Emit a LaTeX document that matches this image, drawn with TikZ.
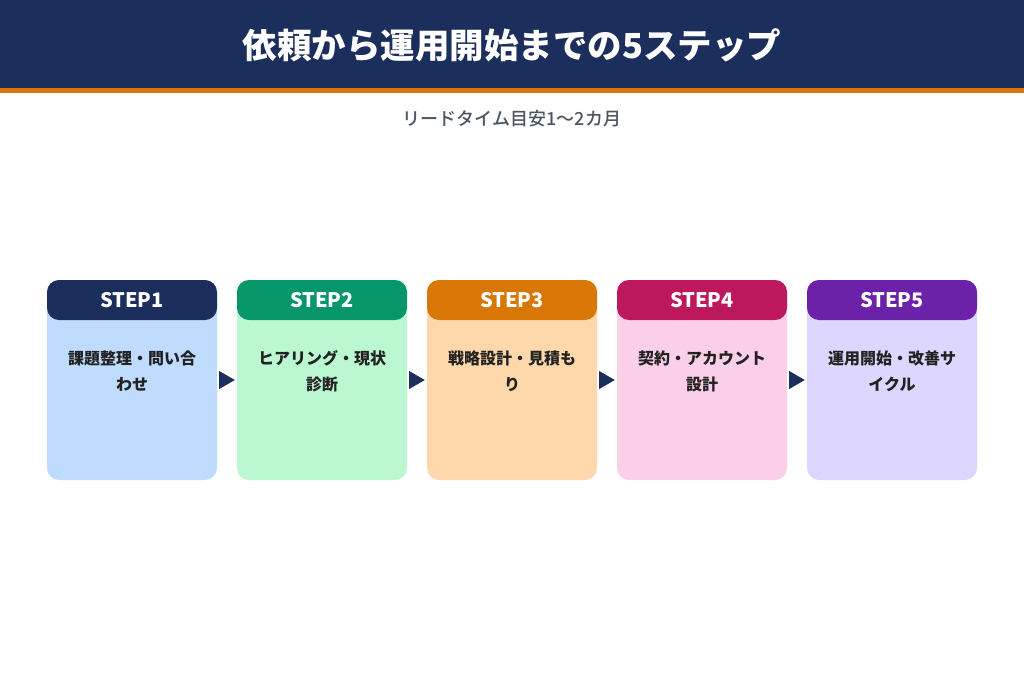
\documentclass[tikz,border=0pt]{standalone}
\usepackage{fontspec}
\setmainfont{Noto Sans CJK JP}
\newfontfamily\jp{Noto Sans CJK JP}
\newfontfamily\jpblack{Noto Sans CJK JP Black}
\newfontfamily\jpmed{Noto Sans CJK JP Medium}
\usetikzlibrary{calc}
\definecolor{navy}{HTML}{1C2E5C}
\definecolor{stripe}{HTML}{D97706}
\definecolor{hA}{HTML}{1C2E5C}
\definecolor{hB}{HTML}{06966A}
\definecolor{hC}{HTML}{D97706}
\definecolor{hD}{HTML}{BE185D}
\definecolor{hE}{HTML}{6B21A8}
\definecolor{bA}{HTML}{BFDBFE}
\definecolor{bB}{HTML}{BBF7D0}
\definecolor{bC}{HTML}{FED7AA}
\definecolor{bD}{HTML}{FBCFE8}
\definecolor{bE}{HTML}{DDD6FE}
\definecolor{subgray}{HTML}{4B5563}
\definecolor{bodytxt}{HTML}{222222}
\tikzset{
  stepbody/.style={rounded corners=12pt, minimum width=170pt, minimum height=200pt, inner sep=0pt},
  stephead/.style={rounded corners=12pt, minimum width=170pt, minimum height=40pt, inner sep=0pt,
    text=white, font=\jp\bfseries\fontsize{20}{22}\selectfont},
  steptext/.style={text width=160pt, align=center, text=bodytxt, inner sep=0pt,
    font=\jp\bfseries\fontsize{16}{26}\selectfont},
  steparrow/.style={fill=navy},
}
\begin{document}
\begin{tikzpicture}[x=1pt,y=-1pt]
\useasboundingbox (0,0) rectangle (1024,683);
\fill[white] (0,0) rectangle (1024,683);
\fill[navy] (0,0) rectangle (1024,88);
\fill[stripe] (0,88) rectangle (1024,93);
\node[text=white, font=\jpblack\fontsize{34.5}{38}\selectfont] (title) at (512,45) {依頼から運用開始までの5ステップ};
\node[text=subgray, font=\jpmed\fontsize{18}{20}\selectfont] (sub) at (512,119) {リードタイム目安1〜2カ月};
\foreach \i/\x/\h/\b/\t in {1/132/hA/bA/課題整理・問い合\\わせ, 2/322/hB/bB/ヒアリング・現状\\診断, 3/512/hC/bC/戦略設計・見積も\\り, 4/702/hD/bD/契約・アカウント\\設計, 5/892/hE/bE/運用開始・改善サ\\イクル}{
  \node[stepbody, fill=\b] (b\i) at (\x,380) {};
  \node[stephead, fill=\h] (h\i) at (\x,300) {STEP\i};
  \node[steptext] (t\i) at (\x,371) {\t};
}
\foreach \a/\c in {1/2,2/3,3/4,4/5}{
  \fill[steparrow] ($(b\a.east)+(2,-9)$) -- ($(b\c.west)+(-2,0)$) -- ($(b\a.east)+(2,9)$) -- cycle;
}
\end{tikzpicture}
\end{document}
